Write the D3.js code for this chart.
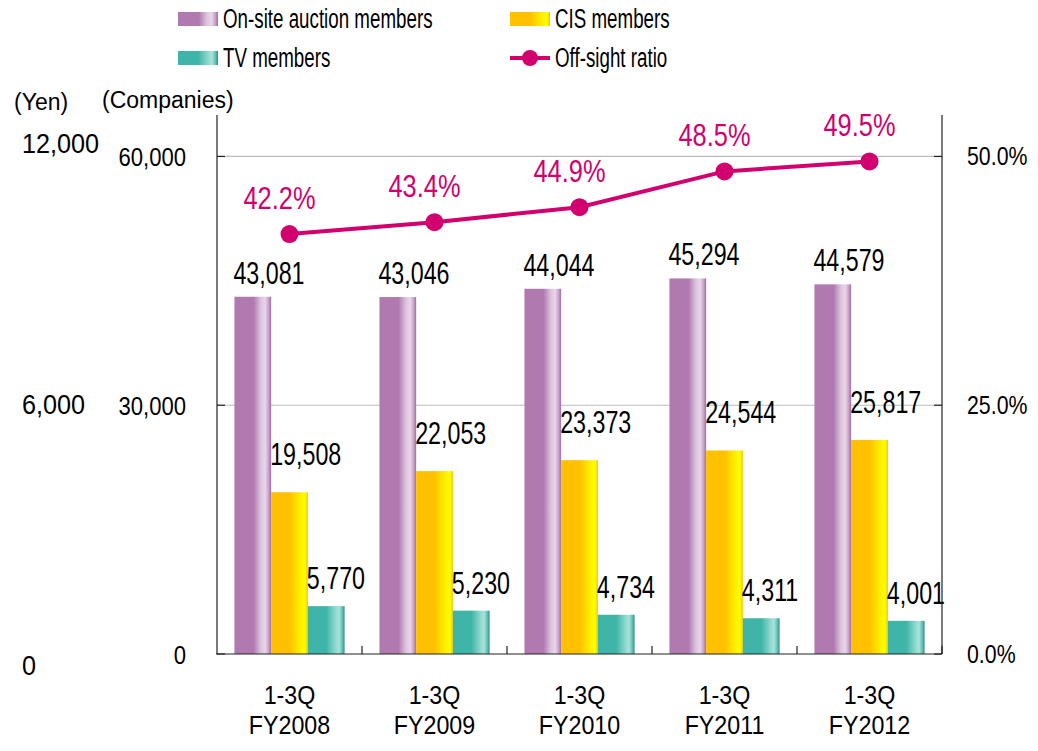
<!DOCTYPE html>
<html><head><meta charset="utf-8">
<script src="https://cdn.jsdelivr.net/npm/d3@7"></script>
<style>html,body{margin:0;padding:0;background:#fff}svg{display:block}text{font-family:"Liberation Sans",Arial,sans-serif}</style>
</head><body>
<svg id="chart" width="1038" height="751"></svg>
<script>
const categories = ["1-3Q\nFY2008","1-3Q\nFY2009","1-3Q\nFY2010","1-3Q\nFY2011","1-3Q\nFY2012"];
const seriesNames = ["On-site auction members","CIS members","TV members"];
const onsite = [43081,43046,44044,45294,44579];
const cis = [19508,22053,23373,24544,25817];
const tv = [5770,5230,4734,4311,4001];
const ratio = [42.2,43.4,44.9,48.5,49.5];
const ratioName = "Off-sight ratio";
const companyTicks = [0,30000,60000];
const yenTicks = [0,6000,12000];
const pctTicks = [0,25,50];

const svg = d3.select("#chart");
const L = 217, R = 942, T = 115, B = 654;
const x0 = d3.scaleBand().domain(categories).range([L,R]).paddingInner(0).paddingOuter(0);
const x1 = d3.scaleBand().domain(seriesNames).range([0,x0.bandwidth()]).paddingInner(0).paddingOuter(0.475);
const y = d3.scaleLinear().domain([0,65000]).range([B,T]);
const yR = d3.scaleLinear().domain([0,50]).range([B,y(60000)]);
const yYen = d3.scaleLinear().domain([0,12000]).range([665,143]);

const defs = svg.append("defs");
function grad(id, stops){
  const g = defs.append("linearGradient").attr("id",id).attr("x1","0").attr("x2","1").attr("y1","0").attr("y2","0");
  stops.forEach(s=>g.append("stop").attr("offset",s[0]).attr("stop-color",s[1]));
}
grad("gP",[[0,"#B07AB0"],[0.52,"#B07AB0"],[0.72,"#DCC4DC"],[0.84,"#E8D6E8"],[0.93,"#C9A2C9"],[1,"#A26CA2"]]);
grad("gC",[[0,"#FFC000"],[0.5,"#FFC000"],[0.8,"#FFF000"],[0.92,"#FFFF00"],[1,"#F6C400"]]);
grad("gT",[[0,"#3FB4A8"],[0.5,"#3FB4A8"],[0.75,"#8ED8CE"],[0.85,"#A8E4DB"],[0.94,"#5FBFB3"],[1,"#2E8A82"]]);
const fills = {"On-site auction members":"url(#gP)","CIS members":"url(#gC)","TV members":"url(#gT)"};
const seriesVals = {"On-site auction members":onsite,"CIS members":cis,"TV members":tv};
const labelGap = {"On-site auction members":13,"CIS members":27,"TV members":17};
const magenta = "#D1006E";

function txt(g, x, yy, s, size, sx, anchor, color){
  return g.append("text").attr("transform",`translate(${x},${yy}) scale(${sx},1)`)
    .attr("font-size",size).attr("text-anchor",anchor||"start").attr("fill",color||"#000").text(s);
}

// gridlines
svg.append("g").selectAll("line").data(companyTicks.filter(d=>d>0)).join("line")
  .attr("x1",L).attr("x2",R).attr("y1",d=>y(d)).attr("y2",d=>y(d))
  .attr("stroke","#BDBDBD").attr("stroke-width",1.2);

// bars
const groups = svg.append("g").selectAll("g").data(categories).join("g")
  .attr("transform",d=>`translate(${x0(d)},0)`);
groups.each(function(c,i){
  const g = d3.select(this);
  seriesNames.forEach(s=>{
    const v = seriesVals[s][i];
    g.append("rect").attr("x",x1(s)).attr("width",x1.bandwidth()).attr("y",y(v)).attr("height",B-y(v)).attr("fill",fills[s]);
  });
});
// bar labels
groups.each(function(c,i){
  const g = d3.select(this);
  seriesNames.forEach(s=>{
    const v = seriesVals[s][i];
    txt(g, x1(s)-1, y(v)-labelGap[s], d3.format(",")(v), 31, 0.75, "start");
  });
});

// axes
const axG = svg.append("g").attr("stroke","#222").attr("stroke-width",1.2);
axG.append("line").attr("x1",L).attr("x2",L).attr("y1",T).attr("y2",B);
axG.append("line").attr("x1",R).attr("x2",R).attr("y1",T).attr("y2",B);
axG.append("line").attr("x1",L-1).attr("x2",R).attr("y1",B).attr("y2",B);
companyTicks.forEach(t=>axG.append("line").attr("x1",L).attr("x2",L+8).attr("y1",y(t)).attr("y2",y(t)));
pctTicks.forEach(t=>axG.append("line").attr("x1",R-8).attr("x2",R).attr("y1",yR(t)).attr("y2",yR(t)));
categories.forEach(c=>{ const xx = x0(c)+x0.bandwidth(); axG.append("line").attr("x1",xx).attr("x2",xx).attr("y1",B).attr("y2",B-8); });

const tg = svg.append("g");
companyTicks.forEach(t=>txt(tg, 186, y(t)+10, d3.format(",")(t), 26, 0.85, "end"));
yenTicks.forEach(t=>txt(tg, 22, yYen(t)+10, d3.format(",")(t), 28, 0.9, "start"));
pctTicks.forEach(t=>txt(tg, 967, yR(t)+9, d3.format(".1f")(t)+"%", 26, 0.82, "start"));
txt(tg, 14, 110, "(Yen)", 23, 1, "start");
txt(tg, 102, 108, "(Companies)", 23, 1, "start");

// category labels
categories.forEach(c=>{
  const parts = c.split("\n"); const cx = x0(c)+x0.bandwidth()/2;
  txt(tg, cx, 704, parts[0], 25, 0.93, "middle");
  txt(tg, cx, 734, parts[1], 25, 0.93, "middle");
});

// ratio line
const cxs = categories.map(c=>x0(c)+x0.bandwidth()/2);
svg.append("path").datum(ratio).attr("fill","none").attr("stroke",magenta).attr("stroke-width",4)
  .attr("d",d3.line().x((d,i)=>cxs[i]).y(d=>yR(d)));
svg.append("g").selectAll("circle").data(ratio).join("circle")
  .attr("cx",(d,i)=>cxs[i]).attr("cy",d=>yR(d)).attr("r",9).attr("fill",magenta);
ratio.forEach((r,i)=>txt(tg, cxs[i]-10, yR(r)-25, d3.format(".1f")(r)+"%", 31, 0.82, "middle", magenta));

// legend
const lg = svg.append("g");
const legendItems = [
  {name:seriesNames[0], x:178, y:12, fill:fills[seriesNames[0]]},
  {name:seriesNames[1], x:510, y:12, fill:fills[seriesNames[1]]},
  {name:seriesNames[2], x:178, y:51, fill:fills[seriesNames[2]]}
];
legendItems.forEach(d=>{
  lg.append("rect").attr("x",d.x).attr("y",d.y).attr("width",40).attr("height",14).attr("fill",d.fill);
  txt(lg, d.x+45, d.y+16, d.name, 28, 0.67, "start");
});
lg.append("line").attr("x1",510).attr("x2",550).attr("y1",58).attr("y2",58).attr("stroke",magenta).attr("stroke-width",4);
lg.append("circle").attr("cx",530).attr("cy",58).attr("r",8).attr("fill",magenta);
txt(lg, 555, 67, ratioName, 28, 0.67, "start");
</script>
</body></html>
